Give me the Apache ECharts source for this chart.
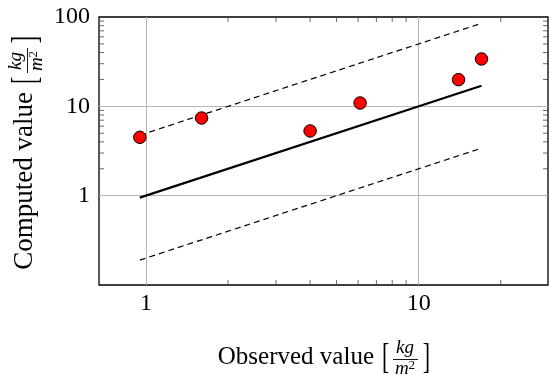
<!DOCTYPE html>
<html><head><meta charset="utf-8">
<script src="https://cdn.jsdelivr.net/npm/echarts@6/dist/echarts.min.js"></script>
<style>html,body{margin:0;padding:0;background:#fff}#c{width:550px;height:382px}</style>
</head><body><div id="c"></div>
<script>
// ---- data ----
const observed = [0.95, 1.6, 4.0, 6.1, 14.0, 17.0];
const computed = [4.5, 7.4, 5.3, 10.9, 19.9, 33.9];
const lineX = [0.95, 17];
const idealY = [0.95, 17];
const upperY = [4.75, 85];
const lowerY = [0.19, 3.4];
const xRange = [0.673, 29.8];
const yRange = [0.1, 100];
const xMinorTicks = [2, 3, 4, 5, 6, 7, 8, 9, 20];
const yMinorTicks = [2, 3, 4, 5, 6, 7, 8, 9, 20, 30, 40, 50, 60, 70, 80, 90];
const xTitle = 'Observed value';
const yTitle = 'Computed value';
const unitNum = 'kg';
const unitDenBase = 'm';
const unitDenExp = '2';

const FONT = '"Liberation Serif", "DejaVu Serif", serif';

function minorTickSeries(values, dir) {
  return {
    type: 'custom', silent: true, z: 3, clip: false,
    data: values.map(v => dir === 'x' ? [v, yRange[0]] : [xRange[0], v]),
    renderItem: function (params, api) {
      const len = 5;
      const st = { stroke: '#444', lineWidth: 0.8 };
      if (dir === 'x') {
        const v = api.value(0);
        const a = api.coord([v, yRange[0]]);
        const b = api.coord([v, yRange[1]]);
        return { type: 'group', children: [
          { type: 'line', shape: { x1: a[0], y1: a[1], x2: a[0], y2: a[1] - len }, style: st },
          { type: 'line', shape: { x1: b[0], y1: b[1], x2: b[0], y2: b[1] + len }, style: st }
        ]};
      } else {
        const v = api.value(1);
        const a = api.coord([xRange[0], v]);
        const b = api.coord([xRange[1], v]);
        return { type: 'group', children: [
          { type: 'line', shape: { x1: a[0], y1: a[1], x2: a[0] + len, y2: a[1] }, style: st },
          { type: 'line', shape: { x1: b[0], y1: b[1], x2: b[0] - len, y2: b[1] }, style: st }
        ]};
      }
    }
  };
}

function titleGroup(text, x, y, rotation, fontSize) {
  return {
    type: 'group', x: x, y: y, rotation: rotation,
    children: [
      { type: 'text', x: 0, y: -2, style: { text: text, font: fontSize + 'px ' + FONT, fill: '#000', align: 'right', verticalAlign: 'middle' } },
      { type: 'text', x: 8, y: 0, scaleY: 1.6, style: { text: '[', font: '22px ' + FONT, fill: '#000', align: 'left', verticalAlign: 'middle' } },
      { type: 'text', x: 31, y: -11, style: { text: unitNum, font: 'italic 19px ' + FONT, fill: '#000', align: 'center', verticalAlign: 'middle' } },
      { type: 'line', shape: { x1: 19, y1: 0.5, x2: 44, y2: 0.5 }, style: { stroke: '#000', lineWidth: 0.9 } },
      { type: 'text', x: 31, y: 10, style: {
          text: '{b|' + unitDenBase + '}{e|' + unitDenExp + '}', fill: '#000', align: 'center', verticalAlign: 'middle',
          rich: {
            b: { font: 'italic 19px ' + FONT, fill: '#000', lineHeight: 19 },
            e: { font: '13px ' + FONT, fill: '#000', verticalAlign: 'top', lineHeight: 13 }
          } } },
      { type: 'text', x: 56, y: 0, scaleY: 1.6, style: { text: ']', font: '22px ' + FONT, fill: '#000', align: 'right', verticalAlign: 'middle' } }
    ]
  };
}

const chart = echarts.init(document.getElementById('c'), null, { renderer: 'canvas' });
const axisCommon = {
  type: 'log', logBase: 10,
  axisLine: { show: false },
  axisTick: { show: false },
  minorTick: { show: false },
  splitLine: { show: true, showMinLine: false, showMaxLine: false, lineStyle: { color: '#b5b5b5', width: 1 } },
  axisLabel: { fontFamily: FONT, fontSize: 24, color: '#000' }
};
chart.setOption({
  animation: false,
  backgroundColor: '#fff',
  grid: { left: 99, right: 2, top: 17, bottom: 97, show: true, borderColor: '#000', borderWidth: 1.3, backgroundColor: 'transparent' },
  xAxis: Object.assign({}, axisCommon, {
    min: xRange[0], max: xRange[1],
    axisLabel: Object.assign({}, axisCommon.axisLabel, { margin: 7, showMinLabel: false, showMaxLabel: false })
  }),
  yAxis: Object.assign({}, axisCommon, {
    min: yRange[0], max: yRange[1], interval: 1,
    axisLabel: Object.assign({}, axisCommon.axisLabel, { margin: 9, showMinLabel: false, showMaxLabel: true })
  }),
  graphic: [
    titleGroup(xTitle, 374, 359, 0, 25),
    titleGroup(yTitle, 27, 92, Math.PI / 2, 27)
  ],
  series: [
    { type: 'line', data: lineX.map((x, i) => [x, idealY[i]]), symbol: 'none', lineStyle: { color: '#000', width: 2.2 }, z: 4 },
    { type: 'line', data: lineX.map((x, i) => [x, upperY[i]]), symbol: 'none', lineStyle: { color: '#000', width: 1.2, type: [6, 4] }, z: 4 },
    { type: 'line', data: lineX.map((x, i) => [x, lowerY[i]]), symbol: 'none', lineStyle: { color: '#000', width: 1.2, type: [6, 4] }, z: 4 },
    { type: 'scatter', data: observed.map((x, i) => [x, computed[i]]), symbol: 'circle', symbolSize: 12.5,
      itemStyle: { color: '#ff0000', borderColor: '#000', borderWidth: 1, opacity: 1 }, z: 5 },
    minorTickSeries(xMinorTicks, 'x'),
    minorTickSeries(yMinorTicks, 'y')
  ]
});
</script>
</body></html>
